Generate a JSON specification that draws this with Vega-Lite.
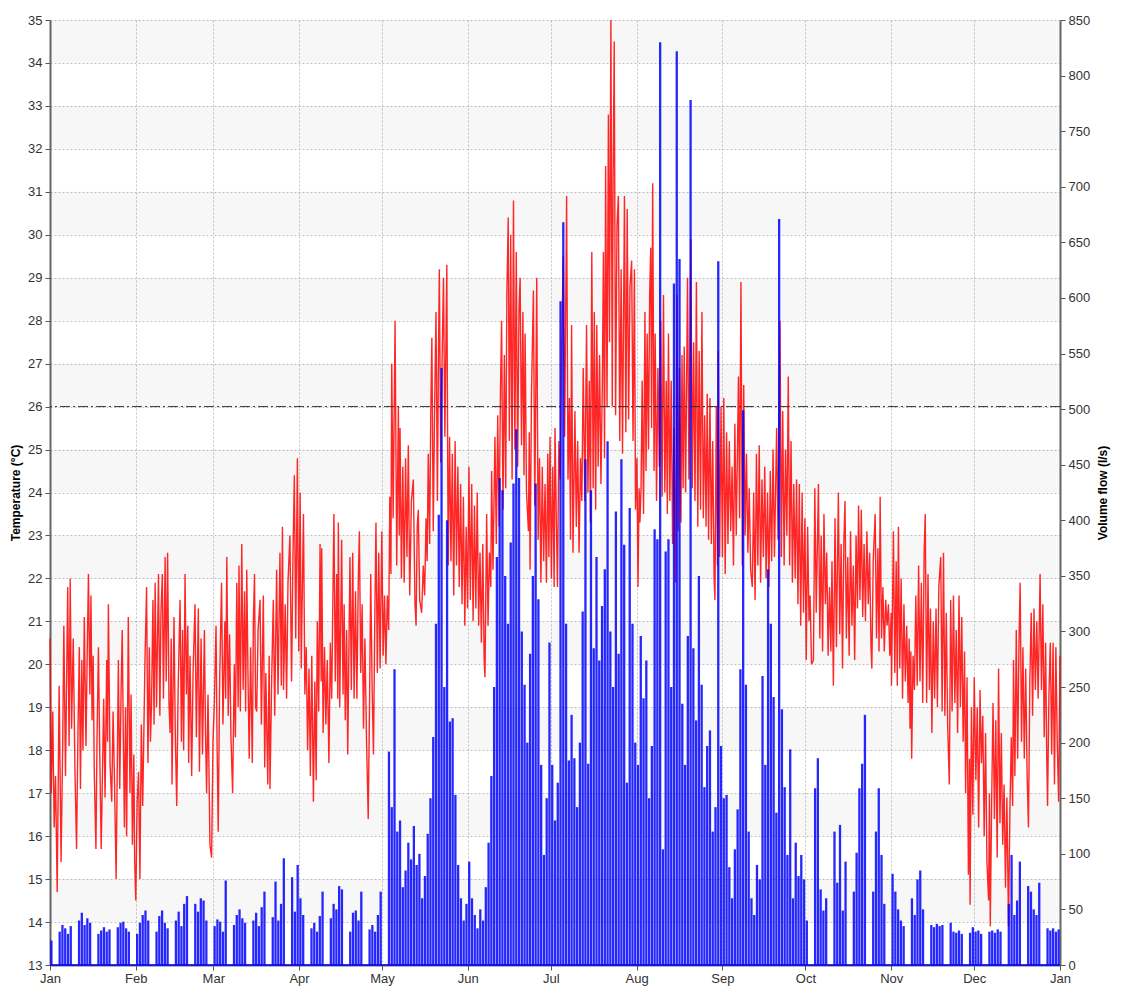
{
  "$schema": "https://vega.github.io/schema/vega-lite/v6.json",
  "width": 1010,
  "height": 945,
  "autosize": {"type": "none"},
  "padding": {"left": 50, "top": 20, "right": 62, "bottom": 40},
  "background": "white",
  "config": {
    "view": {"stroke": null},
    "font": "Liberation Sans",
    "axis": {
      "labelFont": "Liberation Sans",
      "labelFontSize": 13,
      "labelColor": "#333333",
      "labelFlush": false,
      "titleFont": "Liberation Sans",
      "titleFontSize": 12,
      "titleFontWeight": "bold",
      "titleColor": "#000000",
      "tickColor": "#555555",
      "tickSize": 5,
      "domainColor": "#666666",
      "domainWidth": 2,
      "gridColor": "#c4c4c4",
      "gridDash": [2, 2],
      "gridWidth": 1
    }
  },
  "datasets": {
    "bands": [
      {"lo": 14, "hi": 15}, {"lo": 16, "hi": 17}, {"lo": 18, "hi": 19}, {"lo": 20, "hi": 21},
      {"lo": 22, "hi": 23}, {"lo": 24, "hi": 25}, {"lo": 26, "hi": 27}, {"lo": 28, "hi": 29},
      {"lo": 30, "hi": 31}, {"lo": 32, "hi": 33}, {"lo": 34, "hi": 35}
    ],
    "temperature": [
      {"day":0.0,"temp":20.6},{"day":0.5,"temp":17.0},{"day":1.0,"temp":18.9},{"day":1.5,"temp":16.2},{"day":2.0,"temp":17.4},{"day":2.6,"temp":14.7},{"day":3.3,"temp":19.5},{"day":4.0,"temp":15.4},{"day":4.6,"temp":18.2},{"day":5.0,"temp":20.9},
      {"day":5.6,"temp":17.4},{"day":6.4,"temp":21.8},{"day":6.9,"temp":18.1},{"day":7.3,"temp":22.0},{"day":7.8,"temp":18.5},{"day":8.4,"temp":20.6},{"day":9.0,"temp":17.6},{"day":9.6,"temp":15.7},{"day":10.1,"temp":18.4},{"day":10.6,"temp":20.4},
      {"day":11.0,"temp":17.1},{"day":11.5,"temp":20.1},{"day":11.9,"temp":18.0},{"day":12.4,"temp":21.1},{"day":13.0,"temp":18.1},{"day":13.5,"temp":20.5},{"day":13.9,"temp":22.1},{"day":14.4,"temp":19.3},{"day":14.8,"temp":21.6},{"day":15.2,"temp":18.7},
      {"day":15.6,"temp":20.2},{"day":16.0,"temp":17.5},{"day":16.6,"temp":15.7},{"day":17.0,"temp":18.3},{"day":17.5,"temp":20.4},{"day":18.0,"temp":17.8},{"day":18.5,"temp":15.7},{"day":19.0,"temp":17.6},{"day":19.4,"temp":19.2},{"day":19.9,"temp":16.9},
      {"day":20.5,"temp":20.1},{"day":20.8,"temp":18.2},{"day":21.1,"temp":21.4},{"day":21.7,"temp":17.7},{"day":22.3,"temp":16.8},{"day":22.8,"temp":18.9},{"day":23.3,"temp":17.3},{"day":23.9,"temp":15.0},{"day":24.3,"temp":17.5},{"day":24.7,"temp":20.1},
      {"day":25.2,"temp":17.1},{"day":25.7,"temp":19.4},{"day":26.1,"temp":20.8},{"day":26.5,"temp":18.3},{"day":26.9,"temp":16.2},{"day":27.3,"temp":19.0},{"day":27.7,"temp":16.0},{"day":28.3,"temp":21.1},{"day":28.9,"temp":17.0},{"day":29.3,"temp":19.3},
      {"day":29.8,"temp":15.8},{"day":30.3,"temp":17.9},{"day":30.6,"temp":15.4},{"day":31.0,"temp":14.5},{"day":31.5,"temp":16.8},{"day":32.0,"temp":17.5},{"day":32.5,"temp":15.0},{"day":33.0,"temp":18.6},{"day":33.5,"temp":16.7},{"day":34.3,"temp":20.0},
      {"day":34.9,"temp":21.8},{"day":35.4,"temp":17.7},{"day":35.9,"temp":20.4},{"day":36.3,"temp":18.2},{"day":36.7,"temp":19.1},{"day":37.2,"temp":21.5},{"day":37.6,"temp":18.6},{"day":38.0,"temp":21.9},{"day":38.5,"temp":19.0},{"day":39.2,"temp":22.1},
      {"day":39.7,"temp":18.8},{"day":40.1,"temp":21.2},{"day":40.6,"temp":22.1},{"day":41.0,"temp":19.2},{"day":41.6,"temp":22.5},{"day":42.0,"temp":19.6},{"day":42.5,"temp":22.6},{"day":43.0,"temp":19.1},{"day":43.4,"temp":18.4},{"day":43.8,"temp":20.6},
      {"day":44.1,"temp":17.2},{"day":44.8,"temp":21.1},{"day":45.3,"temp":18.3},{"day":45.8,"temp":16.7},{"day":46.3,"temp":19.4},{"day":47.0,"temp":21.5},{"day":47.5,"temp":18.2},{"day":47.9,"temp":20.8},{"day":48.3,"temp":18.0},{"day":48.8,"temp":22.1},
      {"day":49.3,"temp":19.3},{"day":49.8,"temp":20.9},{"day":50.1,"temp":17.7},{"day":50.6,"temp":20.2},{"day":51.2,"temp":17.4},{"day":51.7,"temp":19.8},{"day":52.4,"temp":21.4},{"day":52.9,"temp":18.3},{"day":53.6,"temp":21.3},{"day":54.0,"temp":17.5},
      {"day":54.6,"temp":20.6},{"day":55.1,"temp":17.9},{"day":55.8,"temp":20.8},{"day":56.2,"temp":18.4},{"day":56.6,"temp":17.0},{"day":57.1,"temp":19.3},{"day":57.8,"temp":15.8},{"day":58.4,"temp":15.5},{"day":58.9,"temp":18.2},{"day":59.4,"temp":19.1},
      {"day":60.0,"temp":20.9},{"day":60.4,"temp":18.0},{"day":60.8,"temp":16.1},{"day":61.3,"temp":19.6},{"day":62.0,"temp":21.9},{"day":62.5,"temp":18.6},{"day":63.2,"temp":21.0},{"day":63.5,"temp":19.2},{"day":63.9,"temp":22.5},{"day":64.4,"temp":18.8},
      {"day":64.9,"temp":20.7},{"day":65.4,"temp":18.3},{"day":66.0,"temp":17.0},{"day":66.6,"temp":20.0},{"day":67.0,"temp":18.3},{"day":67.5,"temp":21.9},{"day":68.0,"temp":19.0},{"day":68.3,"temp":22.3},{"day":68.8,"temp":18.9},{"day":69.3,"temp":22.8},
      {"day":69.8,"temp":19.4},{"day":70.3,"temp":21.7},{"day":70.7,"temp":18.9},{"day":71.1,"temp":22.2},{"day":71.6,"temp":19.5},{"day":72.0,"temp":17.8},{"day":72.5,"temp":20.4},{"day":73.1,"temp":17.7},{"day":73.5,"temp":21.0},{"day":73.9,"temp":22.1},
      {"day":74.3,"temp":19.0},{"day":74.7,"temp":18.9},{"day":75.2,"temp":20.8},{"day":75.9,"temp":21.5},{"day":76.4,"temp":18.6},{"day":77.1,"temp":21.6},{"day":77.6,"temp":17.6},{"day":78.0,"temp":19.8},{"day":78.7,"temp":17.2},{"day":79.2,"temp":20.2},
      {"day":79.5,"temp":17.1},{"day":80.1,"temp":19.6},{"day":80.7,"temp":21.5},{"day":81.2,"temp":18.8},{"day":81.9,"temp":22.2},{"day":82.4,"temp":19.3},{"day":83.1,"temp":22.6},{"day":83.6,"temp":19.5},{"day":84.0,"temp":23.2},{"day":84.4,"temp":19.4},
      {"day":85.0,"temp":21.4},{"day":85.5,"temp":19.2},{"day":86.0,"temp":21.9},{"day":86.7,"temp":23.0},{"day":87.3,"temp":19.6},{"day":87.8,"temp":22.5},{"day":88.3,"temp":24.4},{"day":88.8,"temp":20.6},{"day":89.4,"temp":24.8},{"day":89.9,"temp":20.3},
      {"day":90.4,"temp":24.0},{"day":90.8,"temp":19.9},{"day":91.0,"temp":20.9},{"day":91.6,"temp":23.5},{"day":92.1,"temp":19.3},{"day":92.6,"temp":20.4},{"day":93.1,"temp":18.0},{"day":93.6,"temp":19.9},{"day":94.1,"temp":17.4},{"day":94.6,"temp":20.2},
      {"day":95.2,"temp":16.8},{"day":95.7,"temp":19.6},{"day":96.2,"temp":17.3},{"day":96.6,"temp":21.0},{"day":97.1,"temp":18.9},{"day":97.6,"temp":22.8},{"day":98.0,"temp":19.6},{"day":98.2,"temp":22.7},{"day":98.7,"temp":18.4},{"day":99.2,"temp":20.4},
      {"day":99.7,"temp":18.6},{"day":100.2,"temp":20.1},{"day":100.8,"temp":17.7},{"day":101.3,"temp":20.5},{"day":101.8,"temp":19.2},{"day":102.6,"temp":23.5},{"day":103.1,"temp":19.6},{"day":103.6,"temp":22.1},{"day":104.0,"temp":19.2},{"day":104.2,"temp":23.3},
      {"day":104.7,"temp":19.0},{"day":105.4,"temp":22.9},{"day":105.9,"temp":19.3},{"day":106.3,"temp":21.4},{"day":106.7,"temp":18.7},{"day":107.2,"temp":20.8},{"day":107.6,"temp":17.9},{"day":108.4,"temp":22.5},{"day":108.9,"temp":19.4},{"day":109.4,"temp":22.6},
      {"day":109.9,"temp":19.2},{"day":110.4,"temp":21.7},{"day":110.9,"temp":19.2},{"day":111.4,"temp":21.9},{"day":111.8,"temp":23.1},{"day":112.3,"temp":19.8},{"day":112.8,"temp":21.4},{"day":113.3,"temp":18.5},{"day":113.8,"temp":20.6},{"day":114.4,"temp":18.2},
      {"day":115.0,"temp":16.4},{"day":115.5,"temp":19.2},{"day":115.9,"temp":22.1},{"day":116.4,"temp":19.5},{"day":116.9,"temp":17.9},{"day":117.4,"temp":21.2},{"day":117.8,"temp":23.3},{"day":118.3,"temp":19.8},{"day":118.8,"temp":22.6},{"day":119.3,"temp":19.9},
      {"day":119.9,"temp":23.1},{"day":120.4,"temp":20.2},{"day":120.9,"temp":21.6},{"day":121.4,"temp":20.0},{"day":121.9,"temp":21.6},{"day":122.4,"temp":20.8},{"day":122.8,"temp":23.9},{"day":123.2,"temp":22.1},{"day":123.5,"temp":27.0},{"day":124.0,"temp":23.4},
      {"day":124.7,"temp":28.0},{"day":125.3,"temp":22.3},{"day":125.9,"temp":26.0},{"day":126.2,"temp":23.0},{"day":126.5,"temp":25.5},{"day":127.0,"temp":22.0},{"day":127.5,"temp":24.6},{"day":128.0,"temp":21.9},{"day":128.5,"temp":24.8},{"day":129.0,"temp":22.5},
      {"day":129.5,"temp":25.1},{"day":130.0,"temp":21.6},{"day":130.6,"temp":23.8},{"day":131.3,"temp":24.3},{"day":131.9,"temp":21.4},{"day":132.3,"temp":20.9},{"day":132.7,"temp":23.2},{"day":133.1,"temp":23.6},{"day":133.6,"temp":21.5},{"day":134.3,"temp":21.2},
      {"day":134.9,"temp":22.3},{"day":135.4,"temp":21.6},{"day":135.9,"temp":23.4},{"day":136.3,"temp":22.4},{"day":136.7,"temp":24.9},{"day":137.2,"temp":22.8},{"day":137.6,"temp":25.8},{"day":138.0,"temp":27.6},{"day":138.5,"temp":23.1},{"day":139.0,"temp":26.0},
      {"day":139.5,"temp":28.2},{"day":140.0,"temp":23.8},{"day":140.4,"temp":27.3},{"day":140.7,"temp":29.2},{"day":141.2,"temp":24.7},{"day":141.7,"temp":27.1},{"day":142.2,"temp":29.0},{"day":142.7,"temp":25.3},{"day":143.4,"temp":29.3},{"day":143.9,"temp":22.3},
      {"day":144.4,"temp":25.3},{"day":144.9,"temp":22.4},{"day":145.4,"temp":24.9},{"day":145.9,"temp":21.6},{"day":146.4,"temp":25.2},{"day":146.9,"temp":22.3},{"day":147.4,"temp":24.6},{"day":147.9,"temp":21.8},{"day":148.4,"temp":24.2},{"day":148.9,"temp":21.4},
      {"day":149.4,"temp":23.9},{"day":149.9,"temp":20.9},{"day":150.4,"temp":23.2},{"day":150.9,"temp":21.3},{"day":151.4,"temp":24.6},{"day":151.9,"temp":21.5},{"day":152.4,"temp":24.2},{"day":152.9,"temp":21.0},{"day":153.4,"temp":23.7},{"day":153.9,"temp":21.3},
      {"day":154.4,"temp":24.0},{"day":154.9,"temp":20.9},{"day":155.4,"temp":22.6},{"day":155.9,"temp":20.5},{"day":156.4,"temp":22.8},{"day":156.9,"temp":20.1},{"day":157.2,"temp":19.7},{"day":157.8,"temp":23.5},{"day":158.3,"temp":20.9},{"day":158.8,"temp":22.6},
      {"day":159.3,"temp":21.8},{"day":159.6,"temp":24.5},{"day":160.1,"temp":22.2},{"day":160.8,"temp":25.3},{"day":161.3,"temp":22.8},{"day":161.8,"temp":25.8},{"day":162.3,"temp":23.2},{"day":162.8,"temp":26.4},{"day":163.2,"temp":28.0},{"day":163.7,"temp":23.6},
      {"day":164.2,"temp":27.2},{"day":164.7,"temp":24.1},{"day":165.1,"temp":28.6},{"day":165.6,"temp":30.4},{"day":166.0,"temp":25.2},{"day":166.5,"temp":30.0},{"day":167.0,"temp":24.3},{"day":167.5,"temp":30.8},{"day":168.0,"temp":25.0},{"day":168.5,"temp":29.6},
      {"day":169.0,"temp":24.6},{"day":169.5,"temp":28.3},{"day":169.9,"temp":29.0},{"day":170.4,"temp":25.1},{"day":170.9,"temp":28.2},{"day":171.3,"temp":24.4},{"day":171.7,"temp":27.7},{"day":172.2,"temp":24.0},{"day":172.9,"temp":23.1},{"day":173.2,"temp":25.4},
      {"day":173.5,"temp":22.2},{"day":174.0,"temp":26.3},{"day":174.7,"temp":28.7},{"day":175.2,"temp":23.7},{"day":175.9,"temp":29.0},{"day":176.4,"temp":22.9},{"day":176.9,"temp":24.8},{"day":177.4,"temp":21.9},{"day":177.9,"temp":24.6},{"day":178.4,"temp":22.4},
      {"day":178.9,"temp":24.2},{"day":179.4,"temp":21.9},{"day":179.9,"temp":24.9},{"day":180.3,"temp":22.5},{"day":180.7,"temp":25.3},{"day":181.2,"temp":22.0},{"day":181.7,"temp":24.6},{"day":182.2,"temp":21.8},{"day":182.5,"temp":25.5},{"day":183.0,"temp":23.3},
      {"day":183.4,"temp":21.8},{"day":183.9,"temp":25.2},{"day":184.4,"temp":24.3},{"day":184.9,"temp":27.4},{"day":185.5,"temp":29.5},{"day":186.0,"temp":25.3},{"day":186.7,"temp":30.9},{"day":187.2,"temp":24.3},{"day":187.7,"temp":26.2},{"day":188.1,"temp":22.9},
      {"day":188.5,"temp":27.9},{"day":189.0,"temp":22.6},{"day":189.7,"temp":25.9},{"day":190.2,"temp":23.2},{"day":190.7,"temp":25.2},{"day":191.2,"temp":22.6},{"day":191.7,"temp":24.8},{"day":192.2,"temp":23.8},{"day":192.7,"temp":26.9},{"day":193.3,"temp":23.8},
      {"day":193.9,"temp":27.9},{"day":194.4,"temp":24.0},{"day":194.9,"temp":26.6},{"day":195.3,"temp":23.3},{"day":195.8,"temp":29.6},{"day":196.3,"temp":24.1},{"day":196.7,"temp":28.2},{"day":197.2,"temp":23.6},{"day":197.6,"temp":27.9},{"day":198.1,"temp":24.6},
      {"day":198.6,"temp":27.2},{"day":199.1,"temp":24.2},{"day":199.6,"temp":26.5},{"day":200.0,"temp":29.6},{"day":200.4,"temp":24.8},{"day":200.8,"temp":31.6},{"day":201.3,"temp":26.0},{"day":201.8,"temp":32.8},{"day":202.2,"temp":27.5},{"day":202.7,"temp":35.0},
      {"day":203.2,"temp":26.0},{"day":203.5,"temp":31.3},{"day":203.9,"temp":34.5},{"day":204.4,"temp":25.8},{"day":204.9,"temp":30.2},{"day":205.4,"temp":30.9},{"day":205.9,"temp":25.2},{"day":206.4,"temp":29.2},{"day":206.9,"temp":24.9},{"day":207.6,"temp":30.9},
      {"day":208.1,"temp":25.4},{"day":208.6,"temp":30.6},{"day":209.1,"temp":25.7},{"day":209.6,"temp":28.8},{"day":210.2,"temp":29.4},{"day":210.7,"temp":25.2},{"day":211.2,"temp":29.2},{"day":211.6,"temp":23.6},{"day":212.1,"temp":24.8},{"day":212.5,"temp":21.8},
      {"day":212.9,"temp":24.1},{"day":213.2,"temp":23.3},{"day":213.6,"temp":24.1},{"day":214.0,"temp":26.6},{"day":214.5,"temp":23.5},{"day":215.0,"temp":28.2},{"day":215.4,"temp":24.5},{"day":215.8,"temp":27.7},{"day":216.3,"temp":25.0},{"day":216.7,"temp":28.6},
      {"day":217.1,"temp":29.7},{"day":217.4,"temp":25.5},{"day":217.8,"temp":31.2},{"day":218.3,"temp":24.5},{"day":218.7,"temp":27.7},{"day":219.2,"temp":23.8},{"day":219.7,"temp":26.9},{"day":220.2,"temp":24.6},{"day":220.7,"temp":28.0},{"day":221.2,"temp":23.9},
      {"day":221.7,"temp":28.6},{"day":222.2,"temp":24.0},{"day":222.7,"temp":26.6},{"day":223.1,"temp":23.5},{"day":223.5,"temp":27.7},{"day":224.0,"temp":23.8},{"day":224.5,"temp":26.6},{"day":225.0,"temp":22.8},{"day":225.5,"temp":25.5},{"day":226.1,"temp":21.9},
      {"day":226.6,"temp":28.6},{"day":227.0,"temp":23.1},{"day":227.5,"temp":26.9},{"day":228.0,"temp":23.3},{"day":228.4,"temp":27.2},{"day":228.8,"temp":24.1},{"day":229.2,"temp":27.4},{"day":229.7,"temp":24.0},{"day":230.4,"temp":29.0},{"day":230.9,"temp":24.3},
      {"day":231.6,"temp":29.9},{"day":232.1,"temp":24.1},{"day":232.6,"temp":27.5},{"day":233.1,"temp":23.8},{"day":233.6,"temp":28.9},{"day":234.1,"temp":23.2},{"day":234.6,"temp":27.3},{"day":235.1,"temp":23.6},{"day":235.6,"temp":28.2},{"day":236.1,"temp":23.4},
      {"day":236.6,"temp":25.8},{"day":237.1,"temp":23.2},{"day":237.5,"temp":26.3},{"day":238.0,"temp":22.9},{"day":238.5,"temp":26.2},{"day":239.0,"temp":22.8},{"day":239.5,"temp":25.2},{"day":240.0,"temp":22.0},{"day":240.3,"temp":21.5},{"day":240.8,"temp":26.0},
      {"day":241.2,"temp":22.3},{"day":241.5,"temp":27.3},{"day":242.0,"temp":22.5},{"day":242.5,"temp":26.0},{"day":243.0,"temp":22.5},{"day":243.5,"temp":26.2},{"day":244.0,"temp":22.1},{"day":244.5,"temp":25.4},{"day":245.0,"temp":22.8},{"day":245.5,"temp":25.2},
      {"day":246.0,"temp":23.1},{"day":246.5,"temp":24.6},{"day":247.0,"temp":22.3},{"day":247.5,"temp":25.6},{"day":248.0,"temp":23.0},{"day":248.8,"temp":26.7},{"day":249.2,"temp":23.4},{"day":249.7,"temp":28.9},{"day":250.2,"temp":22.3},{"day":250.7,"temp":26.5},
      {"day":251.2,"temp":23.0},{"day":251.7,"temp":24.9},{"day":252.2,"temp":22.6},{"day":252.7,"temp":24.1},{"day":253.2,"temp":22.2},{"day":253.8,"temp":21.8},{"day":254.3,"temp":24.0},{"day":254.8,"temp":21.5},{"day":255.3,"temp":24.9},{"day":255.8,"temp":22.3},
      {"day":256.3,"temp":25.1},{"day":256.8,"temp":21.9},{"day":257.3,"temp":24.3},{"day":257.8,"temp":22.5},{"day":258.3,"temp":24.6},{"day":258.8,"temp":22.0},{"day":259.3,"temp":24.0},{"day":259.8,"temp":21.8},{"day":260.3,"temp":24.5},{"day":260.8,"temp":22.4},
      {"day":261.3,"temp":25.0},{"day":261.8,"temp":22.5},{"day":262.6,"temp":25.5},{"day":263.1,"temp":22.9},{"day":263.8,"temp":28.0},{"day":264.3,"temp":22.5},{"day":264.8,"temp":25.9},{"day":265.3,"temp":22.3},{"day":265.8,"temp":25.0},{"day":266.3,"temp":23.0},
      {"day":266.8,"temp":26.7},{"day":267.3,"temp":22.3},{"day":267.8,"temp":25.2},{"day":268.3,"temp":21.9},{"day":268.8,"temp":24.2},{"day":269.3,"temp":22.0},{"day":269.8,"temp":24.3},{"day":270.3,"temp":21.4},{"day":270.8,"temp":24.2},{"day":271.3,"temp":20.9},
      {"day":271.8,"temp":24.0},{"day":272.3,"temp":21.2},{"day":272.8,"temp":23.4},{"day":273.3,"temp":20.1},{"day":273.8,"temp":23.2},{"day":274.3,"temp":21.0},{"day":274.7,"temp":21.6},{"day":275.2,"temp":20.0},{"day":275.9,"temp":20.1},{"day":276.4,"temp":24.1},
      {"day":276.9,"temp":21.2},{"day":277.7,"temp":24.2},{"day":278.2,"temp":20.6},{"day":278.7,"temp":23.0},{"day":279.2,"temp":20.3},{"day":279.7,"temp":23.5},{"day":280.2,"temp":21.4},{"day":280.7,"temp":22.6},{"day":281.2,"temp":20.2},{"day":281.7,"temp":21.8},
      {"day":282.2,"temp":20.3},{"day":282.6,"temp":22.4},{"day":283.1,"temp":19.5},{"day":283.7,"temp":23.4},{"day":284.2,"temp":20.4},{"day":284.9,"temp":24.0},{"day":285.4,"temp":20.7},{"day":285.9,"temp":22.8},{"day":286.4,"temp":19.9},{"day":286.9,"temp":22.9},
      {"day":287.3,"temp":23.8},{"day":287.8,"temp":20.6},{"day":288.3,"temp":22.5},{"day":288.8,"temp":20.2},{"day":289.3,"temp":23.1},{"day":289.8,"temp":20.9},{"day":290.3,"temp":22.3},{"day":290.8,"temp":20.1},{"day":291.3,"temp":23.0},{"day":291.8,"temp":21.3},
      {"day":292.2,"temp":23.7},{"day":292.7,"temp":21.5},{"day":293.2,"temp":23.6},{"day":293.7,"temp":21.1},{"day":294.2,"temp":22.8},{"day":294.7,"temp":21.0},{"day":295.2,"temp":23.1},{"day":295.7,"temp":21.4},{"day":296.2,"temp":22.6},{"day":296.7,"temp":20.4},
      {"day":297.0,"temp":19.9},{"day":297.5,"temp":22.4},{"day":298.2,"temp":23.5},{"day":298.7,"temp":20.6},{"day":299.2,"temp":22.7},{"day":299.6,"temp":20.3},{"day":300.0,"temp":23.9},{"day":300.5,"temp":20.6},{"day":301.0,"temp":21.8},{"day":301.5,"temp":20.3},
      {"day":302.0,"temp":21.5},{"day":302.5,"temp":20.9},{"day":303.0,"temp":21.4},{"day":303.5,"temp":20.2},{"day":304.0,"temp":21.2},{"day":304.1,"temp":19.5},{"day":304.6,"temp":22.0},{"day":304.8,"temp":23.1},{"day":305.3,"temp":19.8},{"day":305.8,"temp":22.4},
      {"day":306.2,"temp":19.5},{"day":306.6,"temp":23.2},{"day":307.1,"temp":19.9},{"day":307.6,"temp":22.0},{"day":308.1,"temp":19.2},{"day":308.6,"temp":21.4},{"day":309.1,"temp":19.6},{"day":309.6,"temp":20.9},{"day":310.1,"temp":19.1},{"day":310.5,"temp":20.6},
      {"day":310.8,"temp":18.5},{"day":311.1,"temp":20.3},{"day":311.4,"temp":17.8},{"day":311.9,"temp":20.2},{"day":312.4,"temp":19.4},{"day":312.9,"temp":21.6},{"day":313.4,"temp":19.5},{"day":313.9,"temp":22.3},{"day":314.4,"temp":19.6},{"day":314.9,"temp":21.9},
      {"day":315.4,"temp":19.1},{"day":315.9,"temp":22.6},{"day":316.3,"temp":23.5},{"day":316.8,"temp":19.1},{"day":317.3,"temp":22.1},{"day":317.8,"temp":19.4},{"day":318.2,"temp":21.3},{"day":318.7,"temp":18.4},{"day":319.2,"temp":21.0},{"day":319.7,"temp":19.2},
      {"day":320.2,"temp":21.3},{"day":320.7,"temp":19.0},{"day":321.2,"temp":21.8},{"day":321.9,"temp":22.5},{"day":322.4,"temp":18.9},{"day":322.9,"temp":22.6},{"day":323.4,"temp":18.8},{"day":323.9,"temp":21.2},{"day":324.4,"temp":18.6},{"day":325.0,"temp":17.2},
      {"day":325.5,"temp":21.5},{"day":326.0,"temp":18.9},{"day":326.5,"temp":21.6},{"day":327.0,"temp":19.1},{"day":327.5,"temp":20.8},{"day":328.0,"temp":18.4},{"day":328.5,"temp":21.6},{"day":329.0,"temp":19.0},{"day":329.5,"temp":21.1},{"day":330.0,"temp":18.2},
      {"day":330.5,"temp":20.3},{"day":330.9,"temp":17.0},{"day":331.4,"temp":19.7},{"day":331.9,"temp":15.1},{"day":332.3,"temp":17.8},{"day":332.5,"temp":14.4},{"day":333.0,"temp":19.0},{"day":333.5,"temp":16.5},{"day":334.0,"temp":19.7},{"day":334.6,"temp":17.3},
      {"day":335.1,"temp":19.0},{"day":335.6,"temp":16.2},{"day":336.1,"temp":19.4},{"day":336.6,"temp":17.7},{"day":337.1,"temp":18.8},{"day":337.6,"temp":16.0},{"day":338.1,"temp":18.4},{"day":338.6,"temp":15.4},{"day":339.2,"temp":14.5},{"day":339.5,"temp":17.0},
      {"day":339.8,"temp":13.9},{"day":340.3,"temp":16.8},{"day":340.8,"temp":19.1},{"day":341.3,"temp":16.4},{"day":341.8,"temp":18.7},{"day":342.3,"temp":15.5},{"day":342.8,"temp":19.9},{"day":343.3,"temp":16.3},{"day":343.8,"temp":18.4},{"day":344.3,"temp":15.8},
      {"day":344.8,"temp":17.2},{"day":345.3,"temp":14.8},{"day":345.8,"temp":16.9},{"day":346.4,"temp":13.9},{"day":346.9,"temp":16.6},{"day":347.4,"temp":18.3},{"day":347.9,"temp":16.7},{"day":348.2,"temp":20.1},{"day":348.7,"temp":17.4},{"day":349.2,"temp":20.8},
      {"day":349.7,"temp":17.8},{"day":350.2,"temp":20.6},{"day":350.6,"temp":21.9},{"day":351.1,"temp":18.2},{"day":351.6,"temp":20.4},{"day":352.1,"temp":17.8},{"day":352.6,"temp":19.9},{"day":353.1,"temp":17.5},{"day":353.6,"temp":16.2},{"day":354.1,"temp":19.6},
      {"day":354.6,"temp":21.2},{"day":355.1,"temp":18.8},{"day":355.6,"temp":21.3},{"day":356.1,"temp":19.4},{"day":356.6,"temp":21.0},{"day":357.1,"temp":19.2},{"day":357.8,"temp":22.1},{"day":358.3,"temp":19.4},{"day":358.8,"temp":21.4},{"day":359.3,"temp":18.3},
      {"day":359.8,"temp":20.5},{"day":360.2,"temp":17.9},{"day":360.5,"temp":16.7},{"day":361.0,"temp":19.3},{"day":361.5,"temp":20.5},{"day":362.0,"temp":17.9},{"day":362.5,"temp":20.5},{"day":363.0,"temp":17.2},{"day":363.5,"temp":20.4},{"day":364.0,"temp":18.2},
      {"day":364.5,"temp":16.8},{"day":365.0,"temp":20.2}
    ],
    "flow": [
      {"day":0.5,"flow":22},
      {"day":3.5,"flow":30},{"day":4.5,"flow":36},{"day":5.5,"flow":33},{"day":6.5,"flow":28},{"day":7.5,"flow":35},
      {"day":10.5,"flow":40},{"day":11.5,"flow":47},{"day":12.5,"flow":36},{"day":13.5,"flow":42},{"day":14.5,"flow":38},
      {"day":17.5,"flow":28},{"day":18.5,"flow":31},{"day":19.5,"flow":34},{"day":20.5,"flow":30},{"day":21.5,"flow":32},
      {"day":24.5,"flow":34},{"day":25.5,"flow":38},{"day":26.5,"flow":39},{"day":27.5,"flow":33},{"day":28.5,"flow":30},
      {"day":31.5,"flow":28},{"day":32.5,"flow":38},{"day":33.5,"flow":45},{"day":34.5,"flow":49},{"day":35.5,"flow":40},
      {"day":38.5,"flow":30},{"day":39.5,"flow":44},{"day":40.5,"flow":49},{"day":41.5,"flow":38},{"day":42.5,"flow":33},
      {"day":45.5,"flow":40},{"day":46.5,"flow":48},{"day":47.5,"flow":35},{"day":48.5,"flow":55},{"day":49.5,"flow":62},
      {"day":52.5,"flow":55},{"day":53.5,"flow":48},{"day":54.5,"flow":60},{"day":55.5,"flow":58},{"day":56.5,"flow":40},
      {"day":59.5,"flow":35},{"day":60.5,"flow":41},{"day":61.5,"flow":39},{"day":62.5,"flow":30},{"day":63.5,"flow":76},
      {"day":66.5,"flow":36},{"day":67.5,"flow":45},{"day":68.5,"flow":50},{"day":69.5,"flow":42},{"day":70.5,"flow":38},
      {"day":73.5,"flow":40},{"day":74.5,"flow":47},{"day":75.5,"flow":35},{"day":76.5,"flow":52},{"day":77.5,"flow":66},
      {"day":80.5,"flow":43},{"day":81.5,"flow":75},{"day":82.5,"flow":40},{"day":83.5,"flow":55},{"day":84.5,"flow":96},
      {"day":87.5,"flow":79},{"day":88.5,"flow":48},{"day":89.5,"flow":90},{"day":90.5,"flow":60},{"day":91.5,"flow":45},
      {"day":94.5,"flow":33},{"day":95.5,"flow":38},{"day":96.5,"flow":30},{"day":97.5,"flow":44},{"day":98.5,"flow":66},
      {"day":101.5,"flow":42},{"day":102.5,"flow":55},{"day":103.5,"flow":50},{"day":104.5,"flow":71},{"day":105.5,"flow":68},
      {"day":108.5,"flow":30},{"day":109.5,"flow":47},{"day":110.5,"flow":49},{"day":111.5,"flow":40},{"day":112.5,"flow":66},
      {"day":115.5,"flow":32},{"day":116.5,"flow":36},{"day":117.5,"flow":30},{"day":118.5,"flow":45},{"day":119.5,"flow":66},
      {"day":122.5,"flow":192},{"day":123.5,"flow":142},{"day":124.5,"flow":266},{"day":125.5,"flow":120},{"day":126.5,"flow":130},{"day":127.5,"flow":70},{"day":128.5,"flow":85},{"day":129.5,"flow":110},
      {"day":130.5,"flow":95},{"day":131.5,"flow":125},{"day":132.5,"flow":90},{"day":133.5,"flow":100},{"day":134.5,"flow":60},{"day":135.5,"flow":80},{"day":136.5,"flow":118},{"day":137.5,"flow":150},
      {"day":138.5,"flow":205},{"day":139.5,"flow":307},{"day":140.5,"flow":405},{"day":141.5,"flow":537},{"day":142.5,"flow":250},{"day":143.5,"flow":400},{"day":144.5,"flow":219},{"day":145.5,"flow":222},
      {"day":146.5,"flow":153},{"day":147.5,"flow":90},{"day":148.5,"flow":60},{"day":149.5,"flow":40},{"day":150.5,"flow":55},{"day":151.5,"flow":93},{"day":152.5,"flow":60},{"day":153.5,"flow":45},
      {"day":154.5,"flow":33},{"day":155.5,"flow":50},{"day":156.5,"flow":40},{"day":157.5,"flow":70},{"day":158.5,"flow":110},{"day":159.5,"flow":170},{"day":160.5,"flow":250},{"day":161.5,"flow":367},
      {"day":162.5,"flow":438},{"day":163.5,"flow":427},{"day":164.5,"flow":350},{"day":165.5,"flow":307},{"day":166.5,"flow":380},{"day":167.5,"flow":433},{"day":168.5,"flow":482},{"day":169.5,"flow":438},
      {"day":170.5,"flow":300},{"day":171.5,"flow":252},{"day":172.5,"flow":200},{"day":173.5,"flow":280},{"day":174.5,"flow":350},{"day":175.5,"flow":433},{"day":176.5,"flow":329},{"day":177.5,"flow":180},
      {"day":178.5,"flow":99},{"day":179.5,"flow":150},{"day":180.5,"flow":290},{"day":181.5,"flow":180},{"day":182.5,"flow":130},{"day":183.5,"flow":164},{"day":184.5,"flow":597},{"day":185.5,"flow":668},
      {"day":186.5,"flow":307},{"day":187.5,"flow":184},{"day":188.5,"flow":225},{"day":189.5,"flow":186},{"day":190.5,"flow":142},{"day":191.5,"flow":200},{"day":192.5,"flow":318},{"day":193.5,"flow":455},
      {"day":194.5,"flow":181},{"day":195.5,"flow":427},{"day":196.5,"flow":285},{"day":197.5,"flow":367},{"day":198.5,"flow":274},{"day":199.5,"flow":323},{"day":200.5,"flow":356},{"day":201.5,"flow":471},
      {"day":202.5,"flow":300},{"day":203.5,"flow":250},{"day":204.5,"flow":408},{"day":205.5,"flow":280},{"day":206.5,"flow":455},{"day":207.5,"flow":378},{"day":208.5,"flow":164},{"day":209.5,"flow":411},
      {"day":210.5,"flow":307},{"day":211.5,"flow":200},{"day":212.5,"flow":180},{"day":213.5,"flow":296},{"day":214.5,"flow":240},{"day":215.5,"flow":274},{"day":216.5,"flow":150},{"day":217.5,"flow":197},
      {"day":218.5,"flow":392},{"day":219.5,"flow":383},{"day":220.5,"flow":830},{"day":221.5,"flow":104},{"day":222.5,"flow":372},{"day":223.5,"flow":383},{"day":224.5,"flow":250},{"day":225.5,"flow":613},
      {"day":226.5,"flow":822},{"day":227.5,"flow":635},{"day":228.5,"flow":235},{"day":229.5,"flow":180},{"day":230.5,"flow":296},{"day":231.5,"flow":778},{"day":232.5,"flow":285},{"day":233.5,"flow":220},
      {"day":234.5,"flow":350},{"day":235.5,"flow":252},{"day":236.5,"flow":160},{"day":237.5,"flow":197},{"day":238.5,"flow":211},{"day":239.5,"flow":120},{"day":240.5,"flow":142},{"day":241.5,"flow":633},
      {"day":242.5,"flow":197},{"day":243.5,"flow":150},{"day":244.5,"flow":153},{"day":245.5,"flow":88},{"day":246.5,"flow":60},{"day":247.5,"flow":104},{"day":248.5,"flow":140},{"day":249.5,"flow":266},
      {"day":250.5,"flow":499},{"day":251.5,"flow":252},{"day":252.5,"flow":120},{"day":253.5,"flow":60},{"day":254.5,"flow":45},{"day":255.5,"flow":90},{"day":256.5,"flow":77},{"day":257.5,"flow":260},
      {"day":258.5,"flow":180},{"day":259.5,"flow":356},{"day":260.5,"flow":307},{"day":261.5,"flow":241},{"day":262.5,"flow":137},{"day":263.5,"flow":671},{"day":264.5,"flow":230},{"day":265.5,"flow":160},
      {"day":266.5,"flow":99},{"day":267.5,"flow":194},{"day":268.5,"flow":60},{"day":269.5,"flow":110},{"day":270.5,"flow":80},{"day":271.5,"flow":99},{"day":272.5,"flow":77},{"day":273.5,"flow":40},
      {"day":276.5,"flow":159},{"day":277.5,"flow":186},{"day":278.5,"flow":68},{"day":279.5,"flow":49},{"day":280.5,"flow":60},
      {"day":283.5,"flow":120},{"day":284.5,"flow":74},{"day":285.5,"flow":126},{"day":286.5,"flow":49},{"day":287.5,"flow":93},
      {"day":290.5,"flow":66},{"day":291.5,"flow":101},{"day":292.5,"flow":159},{"day":293.5,"flow":181},{"day":294.5,"flow":225},
      {"day":297.5,"flow":66},{"day":298.5,"flow":120},{"day":299.5,"flow":159},{"day":300.5,"flow":99},{"day":301.5,"flow":55},
      {"day":304.5,"flow":82},{"day":305.5,"flow":66},{"day":306.5,"flow":50},{"day":307.5,"flow":40},{"day":308.5,"flow":35},
      {"day":311.5,"flow":60},{"day":312.5,"flow":45},{"day":313.5,"flow":77},{"day":314.5,"flow":85},{"day":315.5,"flow":50},
      {"day":318.5,"flow":36},{"day":319.5,"flow":34},{"day":320.5,"flow":37},{"day":321.5,"flow":35},{"day":322.5,"flow":36},
      {"day":325.5,"flow":38},{"day":326.5,"flow":30},{"day":327.5,"flow":29},{"day":328.5,"flow":31},{"day":329.5,"flow":28},
      {"day":332.5,"flow":29},{"day":333.5,"flow":34},{"day":334.5,"flow":30},{"day":335.5,"flow":31},{"day":336.5,"flow":28},
      {"day":339.5,"flow":30},{"day":340.5,"flow":31},{"day":341.5,"flow":29},{"day":342.5,"flow":32},{"day":343.5,"flow":30},
      {"day":346.5,"flow":55},{"day":347.5,"flow":99},{"day":348.5,"flow":45},{"day":349.5,"flow":58},{"day":350.5,"flow":93},
      {"day":353.5,"flow":71},{"day":354.5,"flow":66},{"day":355.5,"flow":50},{"day":356.5,"flow":45},{"day":357.5,"flow":74},
      {"day":360.5,"flow":33},{"day":361.5,"flow":31},{"day":362.5,"flow":33},{"day":363.5,"flow":30},{"day":364.5,"flow":32}
    ]
  },
  "layer": [
    {
      "layer": [
        {
          "data": {"name": "bands"},
          "mark": {"type": "rect", "fill": "#000000", "opacity": 0.032},
          "encoding": {
            "y": {
              "field": "lo",
              "type": "quantitative",
              "scale": {"domain": [13, 35], "nice": false, "zero": false},
              "axis": {
                "orient": "left",
                "values": [13,14,15,16,17,18,19,20,21,22,23,24,25,26,27,28,29,30,31,32,33,34,35],
                "title": "Temperature (°C)",
                "titlePadding": 5,
                "labelPadding": 3,
                "grid": true
              }
            },
            "y2": {"field": "hi"}
          }
        },
        {
          "data": {"name": "temperature"},
          "mark": {"type": "line", "color": "#ff0000", "strokeWidth": 1.4, "opacity": 0.85},
          "encoding": {
            "x": {
              "field": "day",
              "type": "quantitative",
              "scale": {"domain": [0, 365], "nice": false, "zero": false},
              "axis": {
                "values": [0, 31, 59, 90, 120, 151, 181, 212, 243, 273, 304, 334, 365],
                "labelExpr": "['Jan','Feb','Mar','Apr','May','Jun','Jul','Aug','Sep','Oct','Nov','Dec','Jan'][indexof([0,31,59,90,120,151,181,212,243,273,304,334,365], datum.value)]",
                "title": null,
                "grid": true,
                "labelFlush": false,
                "labelPadding": 2
              }
            },
            "y": {"field": "temp", "type": "quantitative"}
          }
        },
        {
          "data": {"values": [{}]},
          "mark": {"type": "rule", "color": "#333333", "strokeWidth": 1, "strokeDash": [10, 3, 2, 3]},
          "encoding": {"y": {"datum": 26}}
        }
      ]
    },
    {
      "layer": [
        {
          "data": {"name": "flow"},
          "mark": {"type": "rule", "color": "#0000ff", "strokeWidth": 2.3, "opacity": 0.85},
          "encoding": {
            "x": {
              "field": "day",
              "type": "quantitative",
              "scale": {"domain": [0, 365], "nice": false, "zero": false},
              "axis": {
                "values": [0, 31, 59, 90, 120, 151, 181, 212, 243, 273, 304, 334, 365],
                "labelExpr": "['Jan','Feb','Mar','Apr','May','Jun','Jul','Aug','Sep','Oct','Nov','Dec','Jan'][indexof([0,31,59,90,120,151,181,212,243,273,304,334,365], datum.value)]",
                "title": null,
                "grid": true,
                "labelFlush": false,
                "labelPadding": 2
              }
            },
            "y": {
              "field": "flow",
              "type": "quantitative",
              "scale": {"domain": [0, 850], "nice": false},
              "axis": {
                "orient": "right",
                "values": [0,50,100,150,200,250,300,350,400,450,500,550,600,650,700,750,800,850],
                "title": "Volume flow (l/s)",
                "titleAngle": 270,
                "titleBaseline": "top",
                "titlePadding": 8,
                "labelPadding": 3,
                "grid": false
              }
            },
            "y2": {"datum": 0}
          }
        },
        {
          "data": {"values": [{}]},
          "mark": {"type": "rule", "color": "#0000ff", "strokeWidth": 1.5},
          "encoding": {"y": {"datum": 0}}
        }
      ]
    }
  ],
  "resolve": {"scale": {"y": "independent"}}
}
